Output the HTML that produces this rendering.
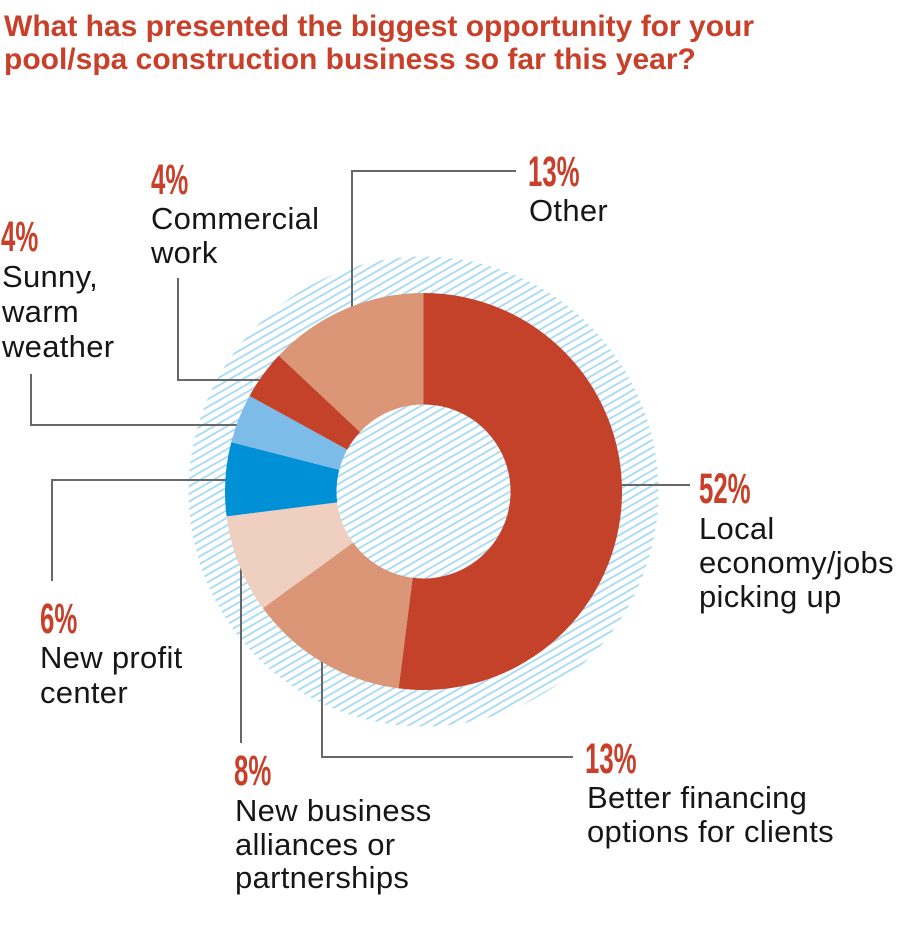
<!DOCTYPE html>
<html>
<head>
<meta charset="utf-8">
<style>
  html, body { margin:0; padding:0; background:#ffffff; }
  svg { display:block; }
  .title { font-family:"Liberation Sans", Arial, sans-serif; font-weight:bold; font-size:30px; fill:#c8402a; }
  .pct { font-family:"Liberation Sans", Arial, sans-serif; font-weight:bold; font-size:43px; fill:#c8402a; }
  .lbl { font-family:"Liberation Sans", Arial, sans-serif; font-size:31px; fill:#161616; letter-spacing:0.3px; }
  .lead { fill:none; stroke:#686868; stroke-width:2; }
</style>
</head>
<body>
<svg width="897" height="933" viewBox="0 0 897 933" xmlns="http://www.w3.org/2000/svg">
  <defs>
    <pattern id="hatch" patternUnits="userSpaceOnUse" width="6.6" height="6.6" patternTransform="rotate(-30)">
      <rect x="0" y="0" width="6.6" height="1.8" fill="#a6daf3"/>
    </pattern>
  </defs>
  <rect width="897" height="933" fill="#ffffff"/>

  <!-- Title -->
  <text class="title" x="4" y="36">What has presented the biggest opportunity for your</text>
  <text class="title" x="4" y="69">pool/spa construction business so far this year?</text>

  <!-- Hatched background circle -->
  <circle cx="423.5" cy="491.5" r="235" fill="url(#hatch)"/>

  <!-- Leader lines -->
  <polyline class="lead" points="352,315 352,171 516,171"/>
  <polyline class="lead" points="178,278 178,380 268,380"/>
  <polyline class="lead" points="31,374 31,425 245,425"/>
  <polyline class="lead" points="52,581 52,480 232,480"/>
  <polyline class="lead" points="241,743 241,560"/>
  <polyline class="lead" points="322,655 322,757 573,757"/>
  <polyline class="lead" points="612,485 690,485"/>

  <!-- Donut slices -->
  <path d="M423.5 293 A198.5 198.5 0 1 1 398.62 688.43 L412.60 577.81 A87 87 0 1 0 423.5 404.5 Z" fill="#c5422a"/>
  <path d="M398.62 688.43 A198.5 198.5 0 0 1 262.91 608.18 L353.12 542.64 A87 87 0 0 0 412.60 577.81 Z" fill="#db9678"/>
  <path d="M262.91 608.18 A198.5 198.5 0 0 1 226.57 516.38 L337.19 502.40 A87 87 0 0 0 353.12 542.64 Z" fill="#efcfc0"/>
  <path d="M226.57 516.38 A198.5 198.5 0 0 1 231.24 442.13 L339.23 469.86 A87 87 0 0 0 337.19 502.40 Z" fill="#0090d5"/>
  <path d="M231.24 442.13 A198.5 198.5 0 0 1 249.55 395.87 L347.26 449.59 A87 87 0 0 0 339.23 469.86 Z" fill="#7dbce8"/>
  <path d="M249.55 395.87 A198.5 198.5 0 0 1 278.80 355.62 L360.08 431.94 A87 87 0 0 0 347.26 449.59 Z" fill="#c5422a"/>
  <path d="M278.80 355.62 A198.5 198.5 0 0 1 423.5 293 L423.5 404.5 A87 87 0 0 0 360.08 431.94 Z" fill="#db9678"/>

  <!-- Labels -->
  <text class="pct" transform="translate(528,186) scale(0.6,1)">13%</text>
  <text class="lbl" x="529" y="221">Other</text>

  <text class="pct" transform="translate(151,194) scale(0.6,1)">4%</text>
  <text class="lbl" x="151" y="229">Commercial</text>
  <text class="lbl" x="151" y="263">work</text>

  <text class="pct" transform="translate(1,251) scale(0.6,1)">4%</text>
  <text class="lbl" x="2" y="287">Sunny,</text>
  <text class="lbl" x="2" y="322">warm</text>
  <text class="lbl" x="2" y="357">weather</text>

  <text class="pct" transform="translate(699,503) scale(0.6,1)">52%</text>
  <text class="lbl" x="699" y="539">Local</text>
  <text class="lbl" x="699" y="573">economy/jobs</text>
  <text class="lbl" x="699" y="607">picking up</text>

  <text class="pct" transform="translate(40,633) scale(0.6,1)">6%</text>
  <text class="lbl" x="40" y="668">New profit</text>
  <text class="lbl" x="40" y="703">center</text>

  <text class="pct" transform="translate(585,773) scale(0.6,1)">13%</text>
  <text class="lbl" x="587" y="808">Better financing</text>
  <text class="lbl" x="587" y="842">options for clients</text>

  <text class="pct" transform="translate(234,785) scale(0.6,1)">8%</text>
  <text class="lbl" x="235" y="821">New business</text>
  <text class="lbl" x="235" y="855">alliances or</text>
  <text class="lbl" x="235" y="888">partnerships</text>
</svg>
</body>
</html>
